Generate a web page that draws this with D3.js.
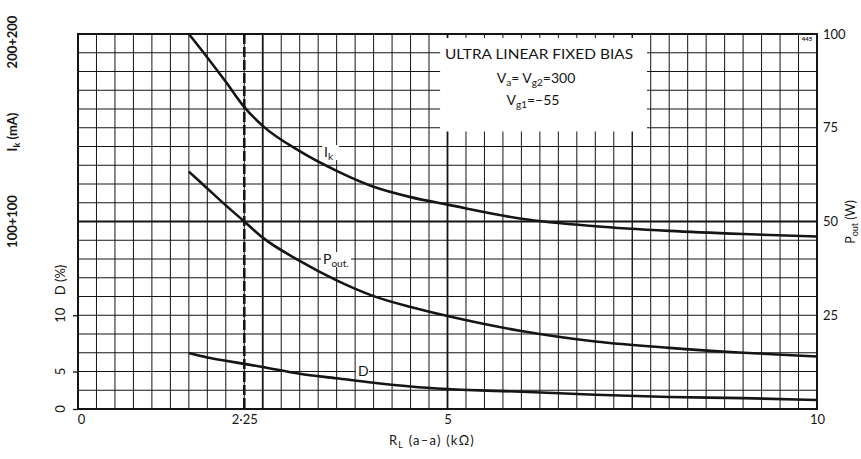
<!DOCTYPE html>
<html><head><meta charset="utf-8">
<script src="https://cdn.jsdelivr.net/npm/d3@7"></script>
<style>
body{margin:0;background:#fff;}
svg{display:block;font-family:Lato,"Open Sans",sans-serif;}
</style></head>
<body><svg id="c" width="861" height="459"></svg>
<script>
// ---- data ----
const rl = [1.5,1.75,2.0,2.25,2.5,3.0,3.5,4.0,4.5,5.0,6.0,7.0,8.0,9.0,10.0];
const ik = [200,187.5,174.5,161,151,137.5,127,118.5,113,109,101.5,97.5,95,93.3,92];
const pout = [63.3,58.8,54.3,50,45.7,39.5,34.3,30.1,27.2,24.8,20.8,18,16.3,15,14];
const dist = [6.64,6.25,5.95,5.68,5.4,4.7,4.1,3.5,3.0,2.66,2.3,1.9,1.6,1.45,1.2];
const xTicks = [0,2.25,5,10];
const pTicks = [25,50,75,100];
const dTicks = [0,5,10];
const ikTicks = [100,200];
const ikTickLabels = ["100+100","200+200"];
const optRL = 2.25;

// ---- scales ----
const L=78,R=817,T=34,B=409;
const x = d3.scaleLinear().domain([0,10]).range([L,R]);
const yP = d3.scaleLinear().domain([0,100]).range([B,T]);
const yIk = d3.scaleLinear().domain([0,200]).range([B,T]);
const yD = d3.scaleLinear().domain([0,5,10]).range([B,B-37.5,B-93.75]);

const svg = d3.select("#c");
const ink = "#151515";

// grid
const g = svg.append("g");
g.selectAll("line.v").data(d3.range(0,10.001,0.25)).join("line")
  .attr("x1",d=>x(d)).attr("x2",d=>x(d)).attr("y1",T).attr("y2",B)
  .attr("stroke",ink).attr("stroke-width",d=>(Math.abs(d-2.5)<1e-6||Math.abs(d-5)<1e-6)?1.8:(Math.abs(d-7.5)<1e-6?1.4:1));
g.selectAll("line.h").data(d3.range(0,100.001,5)).join("line")
  .attr("x1",L).attr("x2",R).attr("y1",d=>yP(d)).attr("y2",d=>yP(d))
  .attr("stroke",ink).attr("stroke-width",d=>d===50?2:1);

// dashed optimum line
svg.append("line").attr("x1",x(optRL)).attr("x2",x(optRL)).attr("y1",T).attr("y2",B)
  .attr("stroke",ink).attr("stroke-width",2.6).attr("stroke-dasharray","10,3");

// title box
svg.append("rect").attr("x",x(4.9)).attr("y",T+4).attr("width",x(7.7)-x(4.9)).attr("height",yP(74)-T-4).attr("fill","#fff");
const tb = svg.append("g").attr("fill",ink).attr("text-anchor","middle");
tb.append("text").attr("x",539).attr("y",59).attr("font-size",13.5).text("ULTRA LINEAR FIXED BIAS")
  .attr("textLength",188).attr("lengthAdjust","spacingAndGlyphs");
const t2 = tb.append("text").attr("x",536).attr("y",83).attr("font-size",14);
t2.append("tspan").text("V");
t2.append("tspan").attr("font-size",10).attr("dy",3).text("a");
t2.append("tspan").attr("dy",-3).text("= V");
t2.append("tspan").attr("font-size",10).attr("dy",3).text("g2");
t2.append("tspan").attr("dy",-3).text("=300");
const t3 = tb.append("text").attr("x",533).attr("y",105).attr("font-size",14);
t3.append("tspan").text("V");
t3.append("tspan").attr("font-size",10).attr("dy",3).text("g1");
t3.append("tspan").attr("dy",-3).text("=\u221255");

svg.append("text").attr("x",807).attr("y",41).attr("font-size",6).attr("font-weight","bold").attr("text-anchor","middle").attr("fill",ink).text("445");

// border
svg.append("rect").attr("x",L).attr("y",T).attr("width",R-L).attr("height",B-T)
  .attr("fill","none").attr("stroke",ink).attr("stroke-width",2);

// curves
const line = (ys)=>d3.line().x((d,i)=>x(rl[i])).y(d=>ys(d)).curve(d3.curveMonotoneX);
svg.append("path").datum(ik).attr("d",line(yIk)).attr("fill","none").attr("stroke",ink).attr("stroke-width",2.6);
svg.append("path").datum(pout).attr("d",line(yP)).attr("fill","none").attr("stroke",ink).attr("stroke-width",2.6);
svg.append("path").datum(dist).attr("d",line(yD)).attr("fill","none").attr("stroke",ink).attr("stroke-width",2.6);

// curve labels
function lab(xp,yp,main,sub,w){
  svg.append("rect").attr("x",xp-2).attr("y",yp-12).attr("width",w).attr("height",15).attr("fill","#fff");
  const t=svg.append("text").attr("x",xp).attr("y",yp).attr("font-size",14).attr("fill",ink);
  t.append("tspan").text(main);
  if(sub) t.append("tspan").attr("font-size",10).attr("dy",3).text(sub);
}
lab(324,157,"I","k",17);
lab(323,264,"P","out.",30);
lab(358,376,"D",null,13);

// bottom axis
const xa = svg.append("g").attr("transform",`translate(0,${B})`)
  .call(d3.axisBottom(x).tickValues(xTicks).tickSize(0).tickPadding(6)
    .tickFormat(d=>String(d).replace(".","\u00b7")));
xa.select(".domain").remove();
xa.selectAll("text").attr("font-size",13).attr("font-family","Lato").attr("fill",ink)
  .attr("dx",d=>d===0?3:0);
const xl = svg.append("text").attr("x",432).attr("y",445).attr("text-anchor","middle").attr("font-size",13).attr("letter-spacing",1.2).attr("fill",ink);
xl.append("tspan").text("R");
xl.append("tspan").attr("font-size",9).attr("dy",3).text("L");
xl.append("tspan").attr("dy",-3).text("  (a\u2013a)  (k\u03a9)");

// right axis
const ra = svg.append("g").attr("transform",`translate(${R},0)`)
  .call(d3.axisRight(yP).tickValues(pTicks).tickSize(0).tickPadding(6));
ra.select(".domain").remove();
ra.selectAll("text").attr("font-size",13).attr("font-family","Lato").attr("fill",ink);
const pl = svg.append("text").attr("transform","translate(855,222) rotate(-90)").attr("text-anchor","middle").attr("font-size",12.5).attr("fill",ink);
pl.append("tspan").text("P");
pl.append("tspan").attr("font-size",9).attr("dy",3).text("out");
pl.append("tspan").attr("dy",-3).text(" (W)");

// left D axis (ticks from axis, labels rotated)
const la = svg.append("g").attr("transform",`translate(${L},0)`)
  .call(d3.axisLeft(yD).tickValues(dTicks).tickSize(5).tickFormat(""));
la.select(".domain").remove();
la.selectAll("line").attr("stroke",ink).attr("stroke-width",1.3);
svg.append("g").selectAll("text").data(dTicks).join("text")
  .attr("transform",d=>`translate(65,${yD(d)}) rotate(-90)`)
  .attr("text-anchor","middle").attr("font-size",13).attr("fill",ink).text(d=>d);
svg.append("text").attr("transform","translate(65,280) rotate(-90)").attr("text-anchor","middle").attr("font-size",13).attr("fill",ink).text("D (%)");

// Ik labels
ikTicks.forEach((v,i)=>{
  const yy = Math.max(yIk(v),42);
  svg.append("text").attr("transform",`translate(17,${yy}) rotate(-90)`).attr("text-anchor","middle")
    .attr("font-size",13).attr("font-weight","bold").attr("fill",ink).text(ikTickLabels[i]);
});
const il = svg.append("text").attr("transform","translate(17,132) rotate(-90)").attr("text-anchor","middle").attr("font-size",13).attr("font-weight","bold").attr("fill",ink);
il.append("tspan").text("I");
il.append("tspan").attr("font-size",9).attr("dy",3).text("k");
il.append("tspan").attr("dy",-3).text(" (mA)");
</script></body></html>
